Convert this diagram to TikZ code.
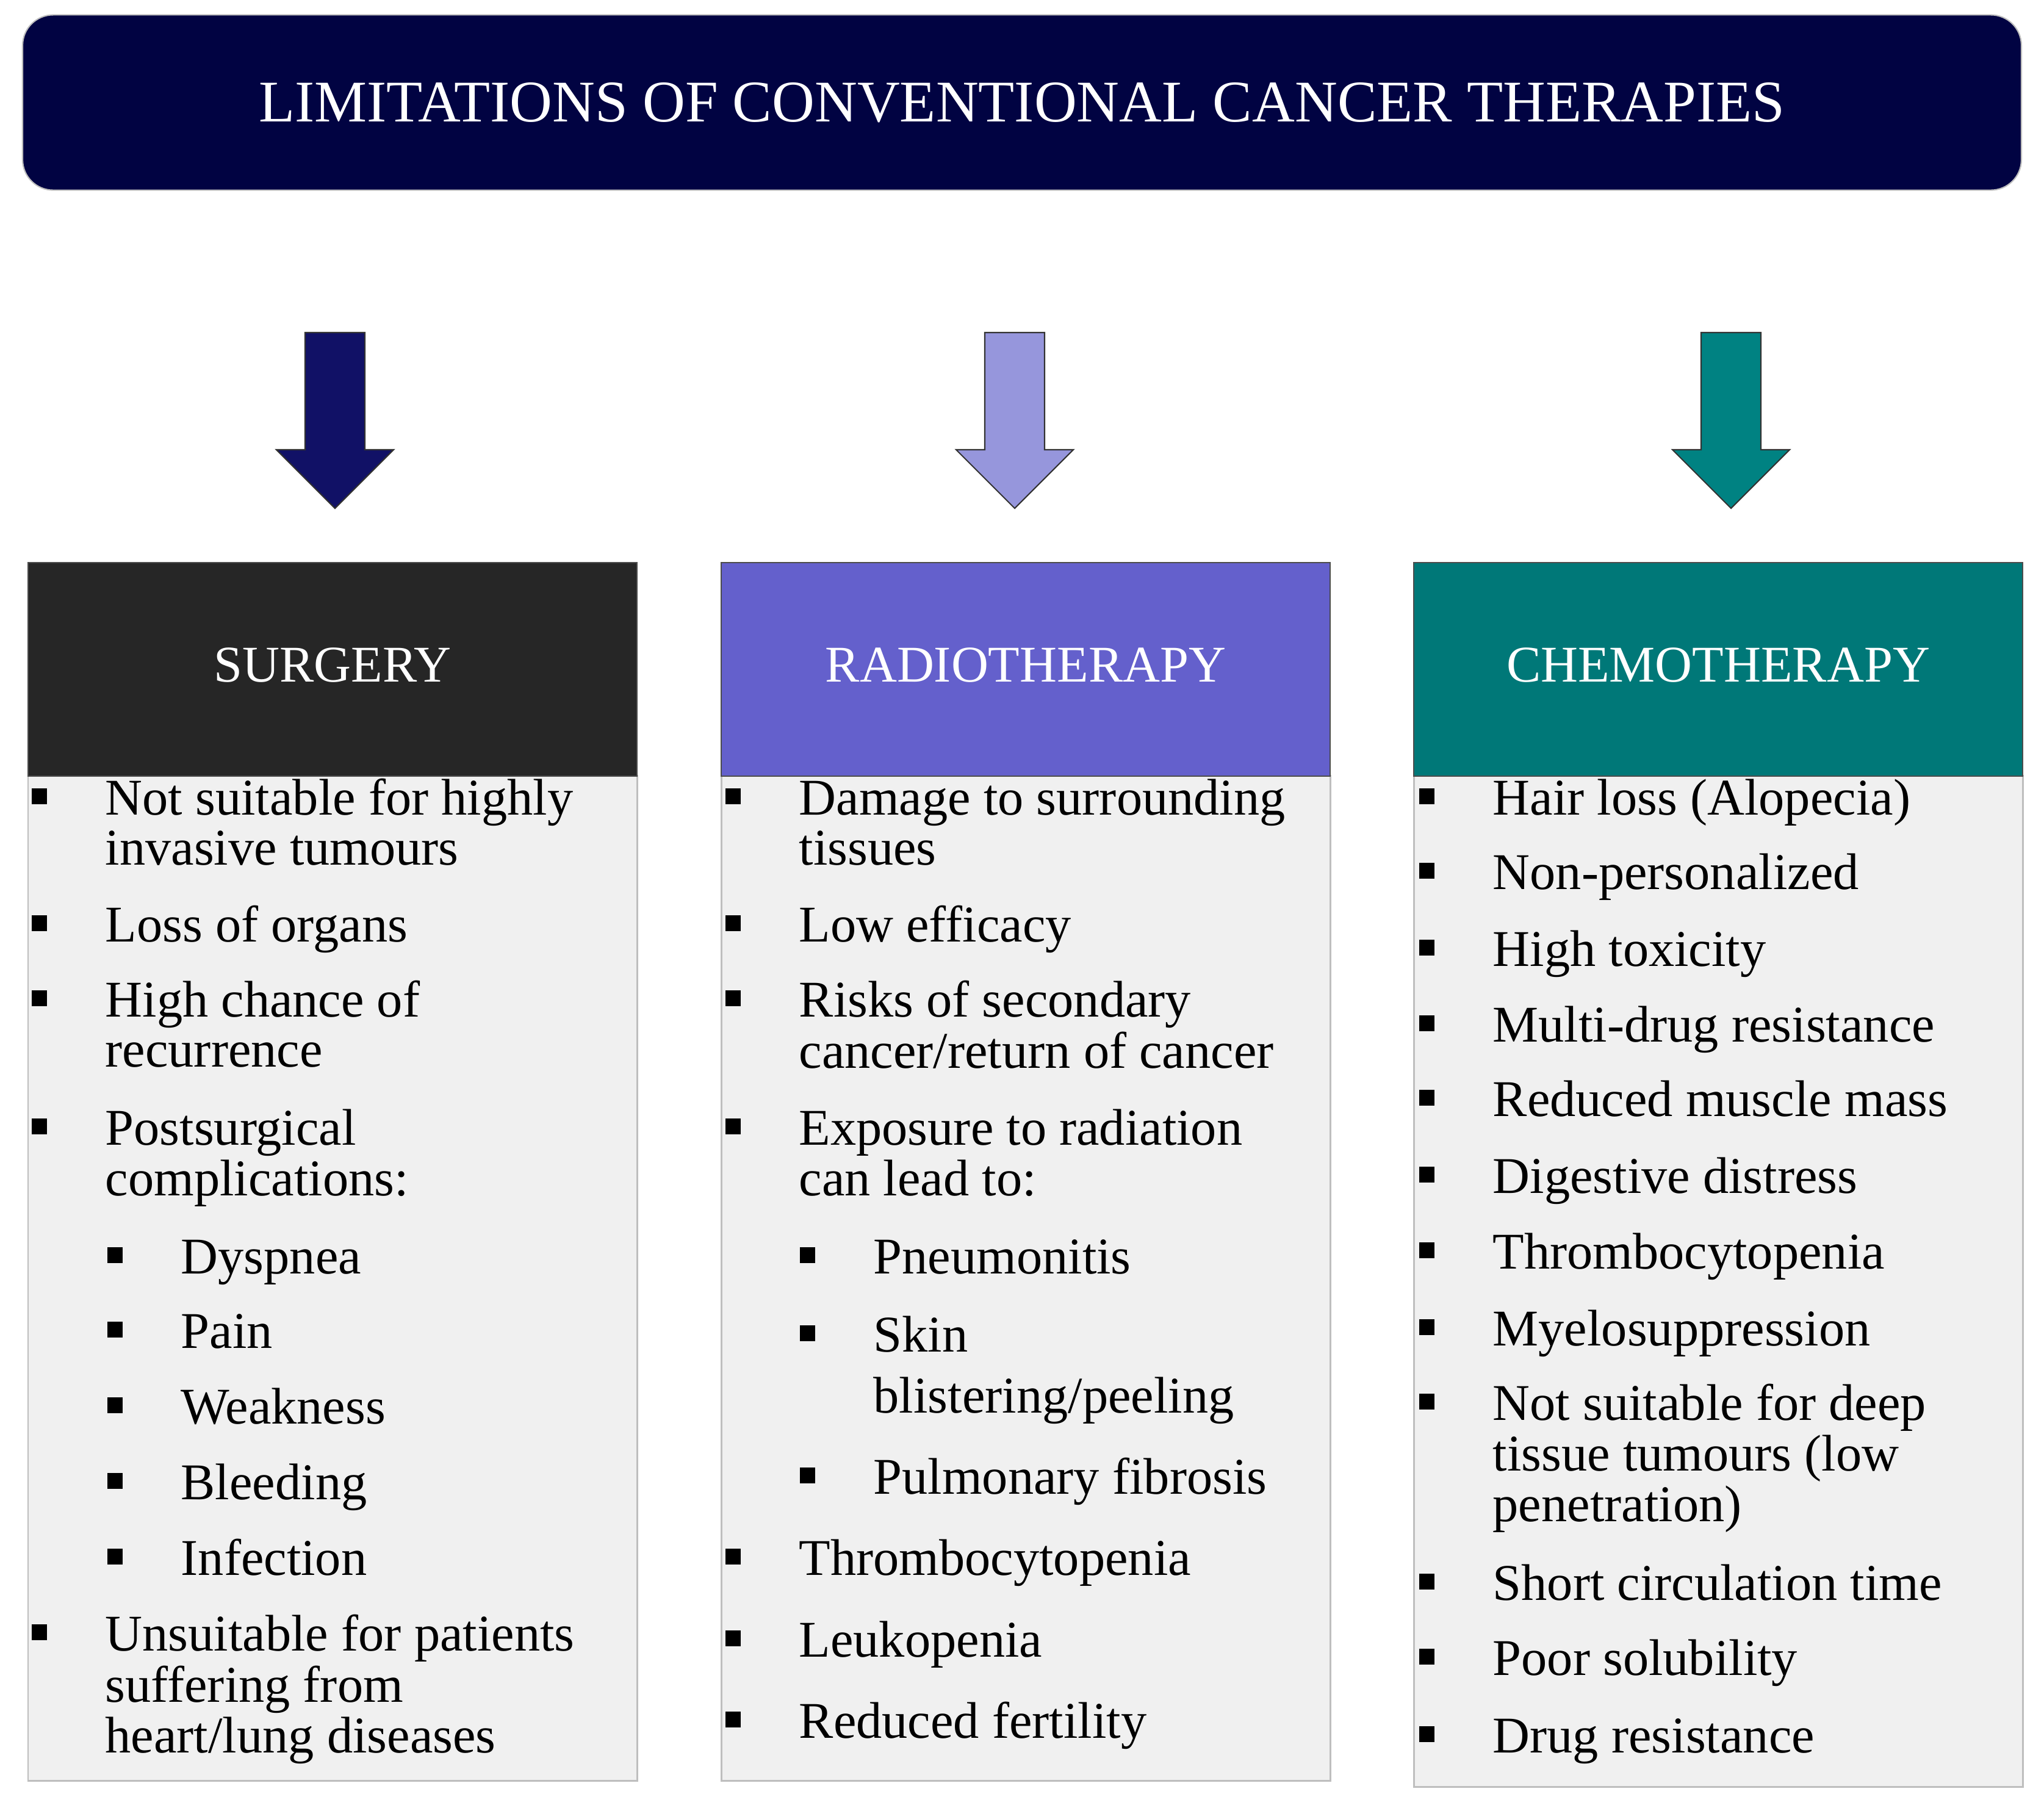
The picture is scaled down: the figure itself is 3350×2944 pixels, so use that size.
\documentclass[tikz,border=0pt]{standalone}
\usepackage{fontspec}
\setmainfont{Liberation Serif}

\definecolor{titlenavy}{RGB}{1,3,66}
\definecolor{arrnavy}{RGB}{17,17,102}
\definecolor{arrlilac}{RGB}{150,150,220}
\definecolor{arrteal}{RGB}{0,130,130}
\definecolor{surgdark}{RGB}{38,38,38}
\definecolor{radioblue}{RGB}{100,96,204}
\definecolor{chemoteal}{RGB}{0,120,120}
\definecolor{bodygray}{RGB}{240,240,240}
\definecolor{bodyedge}{RGB}{190,190,190}

\tikzset{
  titlebox/.style={minimum width=32.74cm, minimum height=2.87cm, inner sep=0pt,
    rounded corners=0.5cm, fill=titlenavy, draw=bodyedge, line width=0.6pt,
    text=white, font=\fontsize{27.5}{30}\selectfont},
  headbox/.style={minimum width=9.98cm, minimum height=3.49cm, inner sep=0pt,
    draw=black!70, line width=0.6pt},
  headtext/.style={inner sep=0pt, text=white, font=\fontsize{24}{28}\selectfont},
  bodybox/.style={fill=bodygray, draw=bodyedge, line width=0.85pt},
  item/.style={anchor=base west, inner sep=0pt,
    font=\fontsize{24}{23.4}\selectfont},
}

% bullet square plus its text, #2 = bullet x, #3 = first baseline
\newcommand{\bitem}[4]{%
  \fill (#2-12,#3-43) rectangle (#2+13,#3-17);
  \node[item] (#1) at (#2+108,#3) {\begin{tabular}[t]{@{}l@{}}#4\end{tabular}};}

% fat arrow pointing down, #1 = centre x
\newcommand{\blockarrow}[2]{%
  \filldraw[fill=#2, draw=black!80, line width=0.6pt]
    (#1-49,545) -- (#1+49,545) -- (#1+49,737) -- (#1+96,737)
    -- (#1,833) -- (#1-96,737) -- (#1-49,737) -- cycle;}

\begin{document}
\begin{tikzpicture}[x=0.01cm,y=-0.01cm]
  \useasboundingbox (0,0) rectangle (3350,2944);

  \node[titlebox] (title) at (1675,168) {LIMITATIONS OF CONVENTIONAL CANCER THERAPIES};

  \blockarrow{549}{arrnavy}
  \blockarrow{1663}{arrlilac}
  \blockarrow{2837}{arrteal}

  % list panels
  \draw[bodybox] (46,1271) rectangle (1044,2918);
  \draw[bodybox] (1182,1271) rectangle (2180,2918);
  \draw[bodybox] (2317,1271) rectangle (3315,2928);

  \node[headbox, fill=surgdark] (surg) at (545,1097) {};
  \node[headbox, fill=radioblue] (radio) at (1681,1097) {};
  \node[headbox, fill=chemoteal] (chemo) at (2816,1097) {};
  \node[headtext] (surgT) at (545,1090) {SURGERY};
  \node[headtext] (radioT) at (1681,1090) {RADIOTHERAPY};
  \node[headtext] (chemoT) at (2816,1090) {CHEMOTHERAPY};

  % surgery
  \bitem{s1}{64}{1335}{Not suitable for highly\\invasive tumours}
  \bitem{s2}{64}{1543}{Loss of organs}
  \bitem{s3}{64}{1666}{High chance of\\recurrence}
  \bitem{s4}{64}{1876}{Postsurgical\\complications:}
  \bitem{s5}{188}{2087}{Dyspnea}
  \bitem{s6}{188}{2209}{Pain}
  \bitem{s7}{188}{2333}{Weakness}
  \bitem{s8}{188}{2457}{Bleeding}
  \bitem{s9}{188}{2581}{Infection}
  \bitem{s10}{64}{2705}{Unsuitable for patients\\suffering from\\heart/lung diseases}

  % radiotherapy
  \bitem{r1}{1201}{1335}{Damage to surrounding\\tissues}
  \bitem{r2}{1201}{1543}{Low efficacy}
  \bitem{r3}{1201}{1666}{Risks of secondary\\cancer/return of cancer}
  \bitem{r4}{1201}{1876}{Exposure to radiation\\can lead to:}
  \bitem{r5}{1323}{2087}{Pneumonitis}
  \bitem{r6}{1323}{2215}{Skin\\[4.8pt]blistering/peeling}
  \bitem{r7}{1323}{2448}{Pulmonary fibrosis}
  \bitem{r8}{1201}{2581}{Thrombocytopenia}
  \bitem{r9}{1201}{2715}{Leukopenia}
  \bitem{r10}{1201}{2848}{Reduced fertility}

  % chemotherapy
  \bitem{c1}{2338}{1335}{Hair loss (Alopecia)}
  \bitem{c2}{2338}{1457}{Non-personalized}
  \bitem{c3}{2338}{1583}{High toxicity}
  \bitem{c4}{2338}{1707}{Multi-drug resistance}
  \bitem{c5}{2338}{1829}{Reduced muscle mass}
  \bitem{c6}{2338}{1955}{Digestive distress}
  \bitem{c7}{2338}{2079}{Thrombocytopenia}
  \bitem{c8}{2338}{2205}{Myelosuppression}
  \bitem{c9}{2338}{2327}{Not suitable for deep\\tissue tumours (low\\penetration)}
  \bitem{c10}{2338}{2622}{Short circulation time}
  \bitem{c11}{2338}{2745}{Poor solubility}
  \bitem{c12}{2338}{2872}{Drug resistance}
\end{tikzpicture}
\end{document}
